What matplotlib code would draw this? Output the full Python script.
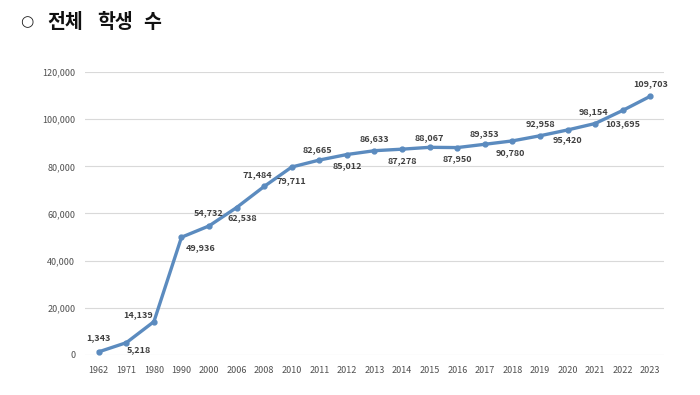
import matplotlib.pyplot as plt
import numpy as np

plt.rcParams['font.family'] = ['Noto Sans CJK KR', 'DejaVu Sans']

years = ['1962', '1971', '1980', '1990', '2000', '2006', '2008', '2010', '2011', '2012', '2013',
         '2014', '2015', '2016', '2017', '2018', '2019', '2020', '2021', '2022', '2023']
students = [1343, 5218, 14139, 49936, 54732, 62538, 71484, 79711, 82665, 85012, 86633,
            87278, 88067, 87950, 89353, 90780, 92958, 95420, 98154, 103695, 109703]

# label offsets from the point, in pixels (positive dy = above)
label_dx = [0, 13, -16, 19, 0, 6, -7, 0, -2, 0, 0, 0, 0, 0, 0, -2, 0, 0, -2, 0, 0]
label_dy = [14, -7, 7, -10, 13, -10, 12, -14, 10, -11, 12, -11, 10, -11, 11, -12, 12, -10, 12, -13, 13]

line_color = '#5b8bbf'
text_color = '#404040'

fig = plt.figure(figsize=(7, 3.95), dpi=100)
ax = fig.add_axes([0.1214, 0.1013, 0.8272, 0.7164])

x = np.arange(len(years))
ax.plot(x, students, color=line_color, linewidth=2.4, marker='o', markersize=3.5, zorder=3)

for i, v in enumerate(students):
    ax.annotate(f'{v:,}', (x[i], v), xytext=(label_dx[i], label_dy[i]), textcoords='offset pixels',
                ha='center', va='center', fontsize=6.5, fontweight='bold', color=text_color)

ax.set_xlim(-0.5, len(years) - 0.5)
ax.set_ylim(0, 120000)
ax.set_yticks(np.arange(0, 120001, 20000))
ax.set_yticklabels([f'{t:,}' for t in range(0, 120001, 20000)])
ax.set_xticks(x)
ax.set_xticklabels(years)
ax.tick_params(axis='both', length=0, labelsize=6.5, labelcolor='#505050')
ax.tick_params(axis='y', pad=7)
ax.tick_params(axis='x', pad=8)
ax.grid(axis='y', color='#d9d9d9', linewidth=0.8)
ax.set_axisbelow(True)
for s in ax.spines.values():
    s.set_visible(False)

# title
ty = 1 - 22 / 395
fig.text(27 / 700, ty, '○', fontsize=11, color='#222222', ha='center', va='center',
         family=['DejaVu Sans'])
for word, px in [('전체', 47), ('학생', 97), ('수', 143)]:
    fig.text(px / 700, ty, word, fontsize=14, fontweight='bold', color='#111111',
             ha='left', va='center')

fig.savefig('out.png', dpi=100)
